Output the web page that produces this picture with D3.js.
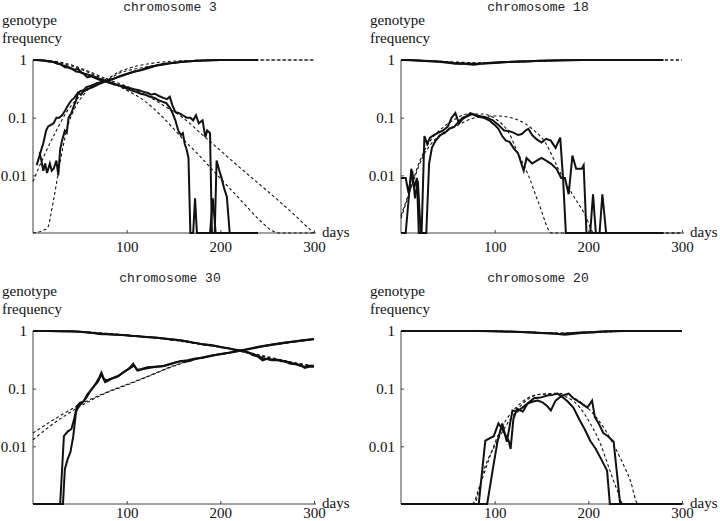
<!DOCTYPE html>
<html>
<head>
<meta charset="utf-8">
<script src="https://d3js.org/d3.v7.min.js"></script>
<style>
body { margin: 0; background: #fff; }
svg { display: block; }
.axis path, .axis line { stroke: #444; stroke-width: 1; }
</style>
</head>
<body>
<svg width="720" height="521"></svg>
<script>
// [day, genotype frequency]; 0 means the genotype was lost (drawn on the bottom line)
var chr3_obs1 = [[7,0.025],[9,0.018],[11,0.012],[13,0.016],[15,0.011],[18,0.016],[20,0.012],[22,0.013],[25,0.018],[27,0.01],[29,0.028],[31,0.04],[34,0.06],[36,0.055],[38,0.1],[41,0.12],[43,0.15],[46,0.2],[48,0.27],[51,0.25],[55,0.3],[60,0.32],[64,0.34],[70,0.38],[75,0.41],[80,0.44],[86,0.47],[92,0.52],[98,0.56],[104,0.6],[110,0.64],[116,0.68],[122,0.74],[128,0.78],[134,0.82],[140,0.86],[146,0.88],[152,0.9],[158,0.93],[164,0.94],[170,0.96],[176,0.97],[182,0.98],[190,0.99],[200,1],[240,1]];
var chr3_obs2 = [[4,0.015],[8,0.025],[11,0.036],[14,0.06],[16,0.07],[19,0.075],[22,0.08],[25,0.1],[28,0.1],[31,0.11],[34,0.13],[36,0.15],[39,0.18],[41,0.2],[44,0.22],[48,0.27],[51,0.29],[54,0.3],[57,0.34],[62,0.36],[67,0.39],[72,0.41],[78,0.44],[84,0.46],[90,0.5],[96,0.54],[102,0.58],[108,0.63],[114,0.66],[120,0.7],[126,0.75],[132,0.8],[138,0.83],[144,0.86],[150,0.9],[156,0.91],[162,0.94],[168,0.95],[175,0.97],[182,0.98],[190,0.99],[200,1],[240,1]];
var chr3_obs3 = [[0,1],[6,1],[12,0.98],[18,0.95],[24,0.9],[28,0.86],[32,0.8],[36,0.78],[40,0.72],[44,0.68],[48,0.7],[52,0.6],[56,0.57],[60,0.55],[65,0.52],[70,0.48],[75,0.45],[80,0.42],[85,0.4],[90,0.37],[96,0.35],[102,0.33],[108,0.31],[113,0.3],[118,0.28],[122,0.27],[126,0.25],[130,0.26],[134,0.24],[139,0.22],[143,0.21],[146,0.23],[149,0.16],[152,0.125],[156,0.12],[160,0.11],[164,0.1],[168,0.1],[171,0.09],[174,0.11],[177,0.08],[181,0.09],[184,0.046],[186,0.06],[189,0.054],[191,0],[194,0],[196,0.018],[199,0.012],[201,0.0094],[204,0.006],[207,0.0042],[210,0],[240,0]];
var chr3_obs4 = [[0,1],[6,0.99],[12,0.97],[18,0.93],[22,0.92],[26,0.86],[30,0.84],[34,0.75],[38,0.74],[42,0.7],[46,0.63],[50,0.62],[54,0.58],[58,0.5],[62,0.52],[66,0.49],[70,0.46],[75,0.44],[80,0.41],[86,0.38],[92,0.36],[98,0.33],[104,0.3],[110,0.28],[115,0.26],[120,0.25],[125,0.23],[130,0.22],[134,0.2],[138,0.19],[142,0.18],[146,0.15],[149,0.12],[152,0.09],[155,0.06],[158,0.05],[160,0.054],[162,0.035],[164,0.028],[166,0.02],[168,0],[171,0],[173,0.004],[175,0],[189,0],[192,0.004],[195,0],[240,0]];
var chr3_fit1 = [[0,0.0078],[13,0.024],[25,0.06],[36,0.126],[48,0.22],[61,0.33],[79,0.45],[93,0.6],[107,0.69],[121,0.76],[146,0.88],[170,0.95],[200,0.99],[240,1],[300,1]];
var chr3_fit2 = [[0,0.001],[15,0.0012],[22,0.0038],[27,0.011],[32,0.031],[37,0.07],[45,0.15],[54,0.25],[68,0.4],[82,0.5],[90,0.6],[100,0.7],[120,0.84],[140,0.93],[160,0.97],[180,0.99],[200,1],[300,1]];
var chr3_fit3 = [[0,1],[20,0.95],[40,0.8],[60,0.6],[80,0.43],[100,0.3],[120,0.19],[139,0.1],[160,0.043],[180,0.02],[197,0.01],[220,0.004],[240,0.0018],[255,0.0011],[262,0.001],[300,0.001]];
var chr3_fit4 = [[0,1],[20,0.96],[40,0.83],[60,0.63],[80,0.46],[100,0.35],[120,0.25],[140,0.16],[160,0.1],[180,0.052],[200,0.027],[220,0.014],[240,0.0074],[260,0.0039],[280,0.002],[290,0.0014],[300,0.001]];

var chr18_obs1 = [[0,1],[10,0.99],[20,0.97],[30,0.95],[40,0.93],[50,0.9],[58,0.86],[62,0.88],[66,0.87],[72,0.84],[78,0.83],[85,0.86],[95,0.88],[105,0.9],[115,0.92],[125,0.93],[135,0.95],[145,0.96],[160,0.98],[175,0.99],[190,1],[280,1]];
var chr18_obs2 = [[0,1],[10,1],[20,0.98],[30,0.96],[40,0.94],[50,0.91],[58,0.88],[64,0.85],[70,0.87],[78,0.86],[86,0.87],[96,0.9],[106,0.92],[116,0.93],[126,0.95],[136,0.94],[146,0.97],[160,0.98],[175,0.99],[195,1],[280,1]];
var chr18_obs3 = [[0,0],[5,0],[11,0.013],[14,0.006],[17,0.009],[19,0],[22,0],[25,0.048],[28,0.035],[31,0.045],[35,0.05],[40,0.055],[45,0.06],[50,0.07],[54,0.1],[58,0.12],[62,0.08],[66,0.095],[70,0.105],[74,0.12],[80,0.11],[86,0.105],[92,0.1],[98,0.09],[104,0.075],[110,0.06],[115,0.059],[120,0.055],[125,0.05],[129,0.052],[133,0.06],[136,0.064],[140,0.05],[145,0.042],[150,0.037],[155,0.043],[160,0.04],[165,0.03],[170,0.045],[173,0.009],[176,0],[280,0]];
var chr18_obs4 = [[0,0.009],[5,0.009],[8,0.005],[12,0.012],[15,0.004],[18,0.008],[21,0],[27,0],[30,0.016],[33,0.03],[37,0.04],[42,0.05],[47,0.055],[52,0.065],[57,0.07],[62,0.087],[66,0.1],[70,0.105],[76,0.115],[82,0.105],[88,0.1],[94,0.09],[100,0.075],[104,0.064],[108,0.048],[112,0.04],[116,0.038],[120,0.03],[125,0.024],[131,0.012],[134,0.02],[140,0.016],[145,0.018],[150,0.02],[155,0.018],[160,0.016],[166,0.013],[171,0.009],[175,0.009],[179,0.0047],[183,0.022],[187,0.013],[193,0.013],[195,0.015],[198,0],[202,0],[205,0.0047],[208,0],[212,0],[215,0.0047],[219,0],[280,0]];
var chr18_fit1 = [[0,1],[30,0.96],[60,0.9],[80,0.88],[110,0.91],[140,0.95],[170,0.98],[200,1],[300,1]];
var chr18_fit2 = [[0,1],[30,0.97],[60,0.92],[90,0.89],[120,0.92],[150,0.96],[180,0.99],[210,1],[300,1]];
var chr18_fit3 = [[0,0.0018],[9,0.005],[19,0.016],[30,0.037],[44,0.066],[58,0.095],[72,0.116],[86,0.116],[101,0.095],[115,0.055],[125,0.024],[136,0.01],[147,0.0033],[161,0.001],[300,0.001]];
var chr18_fit4 = [[0,0.002],[12,0.007],[22,0.019],[37,0.043],[58,0.07],[80,0.1],[101,0.107],[122,0.095],[140,0.064],[154,0.037],[168,0.013],[182,0.005],[197,0.002],[206,0.001],[300,0.001]];

var chr30_obs1 = [[0,1],[10,1],[20,1],[30,0.99],[40,0.99],[50,0.97],[55,0.95],[60,0.93],[65,0.92],[70,0.89],[75,0.88],[80,0.88],[90,0.86],[100,0.84],[105,0.82],[110,0.82],[120,0.79],[130,0.77],[140,0.74],[150,0.71],[160,0.68],[170,0.63],[175,0.62],[180,0.59],[190,0.57],[200,0.53],[210,0.5],[215,0.47],[220,0.46],[225,0.44],[230,0.42],[235,0.38],[240,0.36],[245,0.31],[250,0.33],[255,0.32],[260,0.32],[265,0.3],[270,0.3],[275,0.28],[280,0.27],[285,0.25],[290,0.24],[295,0.25],[300,0.25]];
var chr30_obs2 = [[0,1],[15,1],[30,0.99],[45,0.98],[55,0.96],[65,0.92],[75,0.9],[85,0.87],[95,0.85],[105,0.83],[115,0.8],[125,0.78],[135,0.76],[145,0.72],[155,0.7],[165,0.66],[175,0.61],[185,0.58],[195,0.55],[205,0.51],[215,0.48],[225,0.45],[235,0.4],[245,0.34],[255,0.31],[265,0.31],[275,0.27],[285,0.26],[290,0.23],[295,0.24],[300,0.24]];
var chr30_obs3 = [[0,0],[29,0],[33,0.015],[37,0.018],[41,0.02],[44,0.03],[47,0.05],[50,0.057],[54,0.06],[58,0.08],[61,0.09],[65,0.11],[68,0.13],[71,0.16],[73,0.19],[76,0.145],[79,0.14],[84,0.15],[90,0.16],[96,0.19],[102,0.22],[107,0.27],[111,0.21],[116,0.22],[122,0.235],[130,0.24],[139,0.245],[148,0.27],[157,0.3],[165,0.31],[172,0.33],[180,0.34],[190,0.37],[200,0.4],[210,0.42],[220,0.45],[230,0.48],[240,0.52],[250,0.56],[260,0.6],[270,0.63],[280,0.66],[290,0.7],[300,0.72]];
var chr30_obs4 = [[0,0],[32,0],[34,0.004],[37,0.006],[40,0.008],[43,0.015],[46,0.04],[49,0.05],[53,0.058],[57,0.07],[61,0.09],[65,0.11],[69,0.13],[73,0.175],[77,0.13],[81,0.14],[86,0.155],[92,0.17],[98,0.2],[104,0.23],[108,0.25],[112,0.205],[118,0.22],[125,0.23],[132,0.24],[140,0.25],[150,0.28],[158,0.3],[166,0.3],[174,0.33],[182,0.35],[192,0.38],[202,0.4],[212,0.43],[222,0.46],[232,0.5],[242,0.54],[252,0.57],[262,0.6],[272,0.64],[282,0.67],[292,0.7],[300,0.73]];
var chr30_fit1 = [[0,1],[25,1],[50,0.98],[75,0.92],[100,0.85],[125,0.78],[150,0.7],[175,0.61],[200,0.53],[225,0.44],[250,0.36],[275,0.29],[300,0.24]];
var chr30_fit2 = [[0,1],[25,1],[50,0.97],[75,0.91],[100,0.84],[125,0.77],[150,0.69],[175,0.6],[200,0.52],[225,0.43],[250,0.35],[275,0.29],[300,0.25]];
var chr30_fit3 = [[0,0.017],[25,0.031],[50,0.053],[75,0.082],[100,0.118],[125,0.17],[150,0.25],[175,0.33],[200,0.4],[225,0.47],[250,0.55],[275,0.63],[300,0.72]];
var chr30_fit4 = [[0,0.013],[25,0.027],[50,0.049],[75,0.08],[100,0.115],[125,0.168],[150,0.245],[175,0.325],[200,0.4],[225,0.47],[250,0.55],[275,0.63],[300,0.71]];

var chr20_obs1 = [[0,1],[80,1],[100,0.99],[120,0.97],[140,0.94],[155,0.91],[165,0.9],[175,0.86],[185,0.9],[195,0.93],[210,0.97],[225,0.99],[240,1],[300,1]];
var chr20_obs2 = [[0,1],[90,1],[110,0.98],[130,0.96],[150,0.92],[160,0.91],[170,0.89],[180,0.91],[195,0.95],[205,0.94],[215,0.98],[235,1],[300,1]];
var chr20_obs3 = [[0,0],[83,0],[90,0.0125],[99,0.015],[104,0.025],[108,0.02],[115,0.0125],[117,0.009],[120,0.03],[124,0.045],[130,0.04],[135,0.055],[141,0.06],[146,0.062],[151,0.058],[156,0.05],[160,0.042],[165,0.062],[172,0.076],[179,0.082],[184,0.068],[191,0.058],[199,0.047],[204,0.062],[207,0.032],[211,0.025],[216,0.017],[221,0.015],[227,0.012],[234,0],[300,0]];
var chr20_obs4 = [[0,0],[92,0],[99,0.005],[103,0.012],[108,0.025],[113,0.012],[119,0.042],[124,0.04],[128,0.045],[135,0.055],[142,0.068],[149,0.07],[156,0.076],[162,0.078],[167,0.082],[173,0.07],[178,0.06],[184,0.047],[188,0.035],[191,0.028],[196,0.02],[202,0.0125],[208,0.009],[213,0.0063],[220,0.0038],[223,0],[300,0]];
var chr20_fit1 = [[0,1],[100,0.99],[140,0.95],[170,0.92],[200,0.95],[240,0.99],[300,1]];
var chr20_fit2 = [[0,1],[110,0.99],[150,0.94],[175,0.91],[205,0.95],[245,0.995],[300,1]];
var chr20_fit3 = [[0,0.001],[76,0.001],[85,0.0023],[96,0.0074],[106,0.019],[120,0.042],[135,0.068],[149,0.08],[163,0.08],[178,0.07],[191,0.047],[202,0.025],[213,0.011],[223,0.0038],[231,0.0017],[237,0.001],[300,0.001]];
var chr20_fit4 = [[0,0.001],[78,0.001],[88,0.0037],[103,0.0125],[117,0.03],[131,0.057],[149,0.08],[167,0.083],[184,0.07],[202,0.042],[220,0.017],[234,0.0063],[245,0.0025],[253,0.001],[300,0.001]];

var titles = ["chromosome 3", "chromosome 18", "chromosome 30", "chromosome 20"];
var xTicks = [100, 200, 300];
var yTicks = [1, 0.1, 0.01];
var yTickLabels = ["1", "0.1", "0.01"];

var serif = "'Liberation Serif', 'Times New Roman', Times, serif";
var mono = "'Liberation Mono', 'Courier New', Courier, monospace";

var svg = d3.select("svg");

// plot-area positions of the four panels
var panels = [
    {title: titles[0], left: 33, top: 60, bottom: 233,
     obs: [chr3_obs1, chr3_obs2, chr3_obs3, chr3_obs4], fit: [chr3_fit1, chr3_fit2, chr3_fit3, chr3_fit4]},
    {title: titles[1], left: 401, top: 60, bottom: 233,
     obs: [chr18_obs1, chr18_obs2, chr18_obs3, chr18_obs4], fit: [chr18_fit1, chr18_fit2, chr18_fit3, chr18_fit4]},
    {title: titles[2], left: 33, top: 331, bottom: 504,
     obs: [chr30_obs1, chr30_obs2, chr30_obs3, chr30_obs4], fit: [chr30_fit1, chr30_fit2, chr30_fit3, chr30_fit4]},
    {title: titles[3], left: 401, top: 331, bottom: 504,
     obs: [chr20_obs1, chr20_obs2, chr20_obs3, chr20_obs4], fit: [chr20_fit1, chr20_fit2, chr20_fit3, chr20_fit4]}
];

panels.forEach(function(p, k) {
    var x = d3.scaleLinear().domain([0, 300]).range([p.left, p.left + 281]);
    var y = d3.scaleLog().domain([0.001, 1]).range([p.bottom, p.top]).clamp(true);
    var g = svg.append("g");

    var line = d3.line()
        .x(function(d) { return x(d[0]); })
        .y(function(d) { return y(Math.max(d[1], 0.001)); });
    var smooth = d3.line()
        .x(function(d) { return x(d[0]); })
        .y(function(d) { return y(Math.max(d[1], 0.001)); })
        .curve(d3.curveMonotoneX);

    // axes, ticks point inwards
    var xa = g.append("g").attr("class", "axis")
        .attr("transform", "translate(0," + p.bottom + ")")
        .call(d3.axisBottom(x).tickValues(xTicks).tickSize(-3).tickSizeOuter(0).tickPadding(k < 2 ? 8 : 3));
    xa.select(".domain").attr("d", "M" + p.left + ",0H" + (p.left + 283));
    var ya = g.append("g").attr("class", "axis")
        .attr("transform", "translate(" + p.left + ",0)")
        .call(d3.axisLeft(y).tickValues(yTicks).tickSize(-3).tickSizeOuter(0).tickPadding(6)
            .tickFormat(function(d, i) { return yTickLabels[i]; }));
    ya.select(".domain").attr("d", "M0," + p.bottom + "V" + p.top);
    g.selectAll(".axis").attr("font-family", serif).attr("font-size", 15)
        .selectAll("text").attr("fill", "#111");

    g.selectAll("path.fit")
        .data(p.fit)
        .enter().append("path")
        .attr("class", "fit")
        .attr("d", smooth)
        .attr("fill", "none")
        .attr("stroke", "#111")
        .attr("stroke-width", 1.1)
        .attr("stroke-dasharray", "3,2.5");

    g.selectAll("path.obs")
        .data(p.obs)
        .enter().append("path")
        .attr("class", "obs")
        .attr("d", line)
        .attr("fill", "none")
        .attr("stroke", "#111")
        .attr("stroke-width", 2)
        .attr("stroke-linejoin", "miter");

    g.append("text")
        .attr("x", p.left + 137).attr("y", p.top - 49)
        .attr("text-anchor", "middle")
        .attr("font-family", mono).attr("font-size", 13).attr("fill", "#222")
        .text(p.title);
    var labels = [["genotype", p.left - 31, p.top - 35], ["frequency", p.left - 31, p.top - 17], ["days", p.left + 289, p.bottom + 4]];
    labels.forEach(function(l) {
        g.append("text")
            .attr("x", l[1]).attr("y", l[2])
            .attr("font-family", serif).attr("font-size", 15).attr("fill", "#111")
            .text(l[0]);
    });
});
</script>
</body>
</html>
